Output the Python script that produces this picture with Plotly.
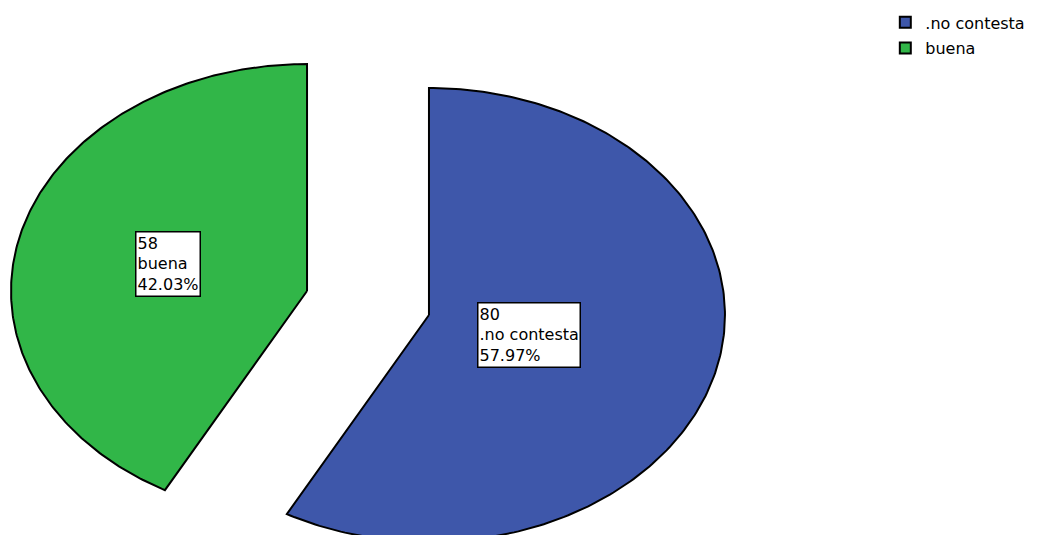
import numpy as np
import plotly.graph_objects as go

# Category data
categories = [".no contesta", "buena"]
counts = [80, 58]
colors = ["#3E57AA", "#31B648"]

total = sum(counts)
fractions = [c / total for c in counts]

# Exploded elliptical pie, drawn in normalised units (radius 1);
# the axis ranges give the horizontal stretch.
pull = 0.2126
label_radius = [0.35, 0.485]

fig = go.Figure()
start = 0.0
for i, (cat, cnt, frac, col) in enumerate(zip(categories, counts, fractions, colors)):
    end = start + frac * 2 * np.pi
    mid = (start + end) / 2
    cx, cy = pull * np.sin(mid), pull * np.cos(mid)
    theta = np.linspace(start, end, 240)
    xs = np.concatenate([[cx], cx + np.sin(theta), [cx]])
    ys = np.concatenate([[cy], cy + np.cos(theta), [cy]])
    fig.add_trace(go.Scatter(
        x=xs, y=ys, mode="lines", fill="toself", fillcolor=col,
        line=dict(color="black", width=2), showlegend=False, hoverinfo="skip",
    ))
    lx = cx + label_radius[i] * np.sin(mid)
    ly = cy + label_radius[i] * np.cos(mid)
    fig.add_annotation(
        x=lx, y=ly, xref="x", yref="y", showarrow=False,
        text=f"{cnt}<br>{cat}<br>{frac * 100:.2f}%", align="left",
        font=dict(family="DejaVu Sans", size=16, color="black"),
        bgcolor="white", bordercolor="black", borderwidth=1.5, borderpad=1,
    )
    start = end

# Legend entries
for cat, col in zip(categories, colors):
    fig.add_trace(go.Scatter(
        x=[None], y=[None], mode="markers", name=cat, legendgroup=cat,
        marker=dict(symbol="square", size=11, color=col,
                    line=dict(color="black", width=2)),
    ))

fig.update_layout(
    width=1044, height=535,
    margin=dict(l=0, r=0, t=0, b=0),
    paper_bgcolor="white", plot_bgcolor="white",
    xaxis=dict(range=[-368 / 296, (1044 - 368) / 296], visible=False, fixedrange=True),
    yaxis=dict(range=[(303 - 535) / 227, 303 / 227], visible=False, fixedrange=True),
    showlegend=True,
    legend=dict(x=0.848, y=0.99, xanchor="left", yanchor="top",
                font=dict(family="DejaVu Sans", size=16, color="black"),
                bgcolor="rgba(0,0,0,0)", tracegroupgap=2),
)

fig.write_html("out.html")
